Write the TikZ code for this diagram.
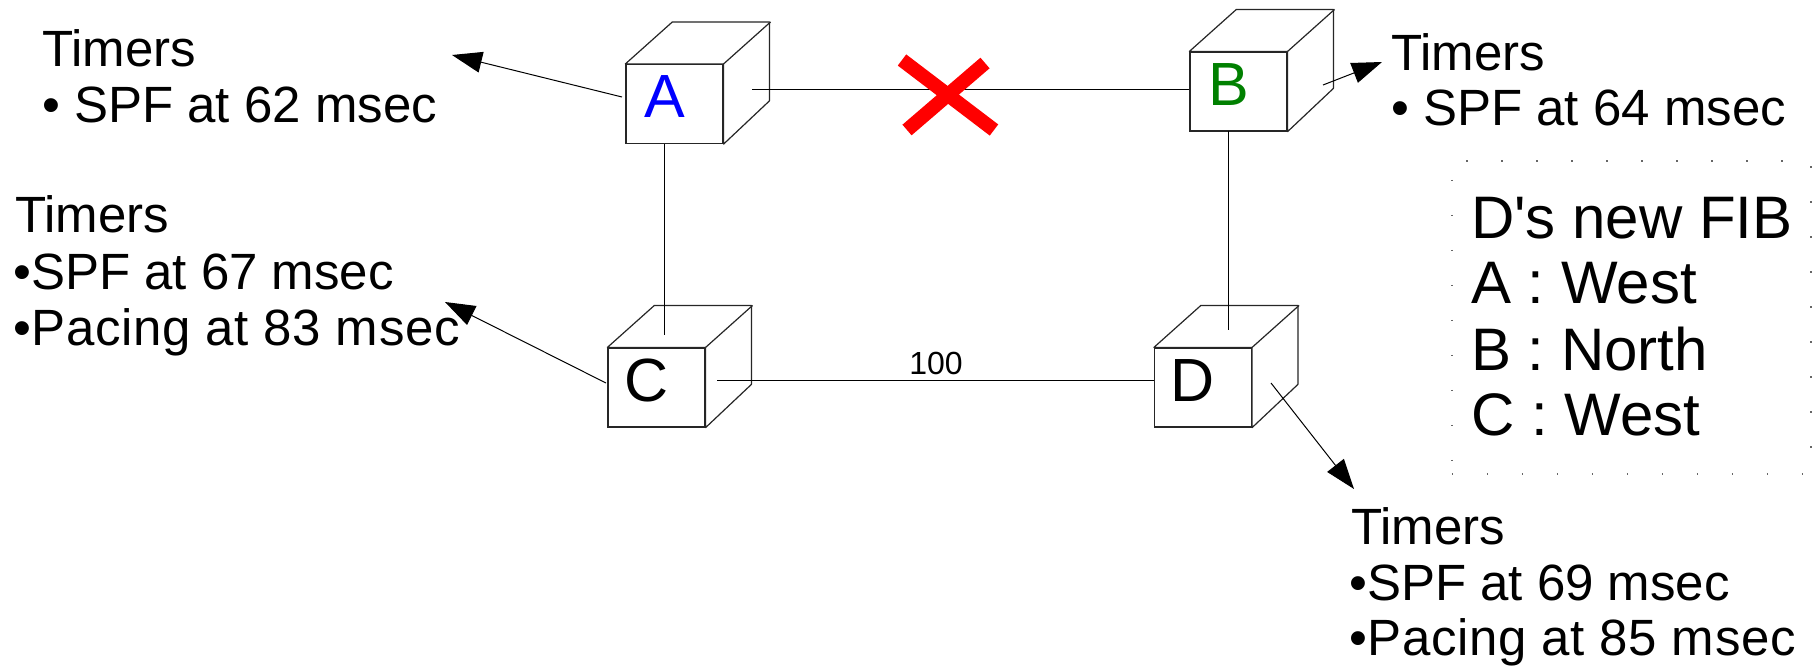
\documentclass[tikz,border=0pt]{standalone}
\usepackage{fontspec}
\setmainfont{Liberation Sans}[Ligatures=TeXOff]
\usetikzlibrary{arrows.meta}
\begin{document}
\begin{tikzpicture}[x=1pt,y=-1pt,
  cube/.style={draw=black!85, line width=1.2pt, minimum width=97pt, minimum height=79pt, inner sep=0pt, fill=white},
  cubeside/.style={draw=black!85, line width=1.2pt, fill=white, line join=round},
  cubelab/.style={font=\fontsize{61}{61}\selectfont, inner sep=0pt},
  link/.style={draw=black, line width=1pt},
  arr/.style={draw=black, line width=1pt, -{Triangle[length=30pt,width=21pt]}},
  txt/.style={font=\fontsize{51}{56}\selectfont, anchor=base west, inner sep=0pt},
  widetxt/.style={txt, font=\fontsize{51}{56}\selectfont\addfontfeature{LetterSpace=1.3}},
  fib/.style={font=\fontsize{60}{66}\selectfont, anchor=base west, inner sep=0pt},
  fibframe/.style={draw=black!60, line width=1.6pt, dash pattern=on 1.6pt off 33.4pt, minimum width=359pt, minimum height=313pt, anchor=north west, inner sep=0pt},
  xmark/.style={draw=red, line width=14pt},
  weight/.style={font=\fontsize{32}{32}\selectfont, anchor=base, inner sep=0pt}
]
\useasboundingbox (0,0) rectangle (1816,667);

\newcommand{\cubebody}[1]{%
  \filldraw[cubeside] (#1.north west) -- ++(47,-42) -- ++(97,0) -- ++(0,79) -- (#1.south east) -- (#1.north east) -- cycle;
  \draw[cubeside] (#1.north east) -- ++(47,-42);
}

% cubes (front faces)
\node[cube] (A) at (674.5,104) {};
\node[cube] (B) at (1238.5,91.5) {};
\node[cube] (C) at (656.5,387.5) {};
\node[cube] (D) at (1203,387.5) {};
\cubebody{A}\cubebody{B}\cubebody{C}\cubebody{D}

\node[cubelab, text=blue] (Alab) at ([shift={(-10,-7)}]A.center) {A};
\node[cubelab, text={rgb,255:red,0;green,128;blue,0}] (Blab) at ([shift={(-10,-7)}]B.center) {B};
\node[cubelab] (Clab) at ([shift={(-10,-7)}]C.center) {C};
\node[cubelab] (Dlab) at ([shift={(-10,-7)}]D.center) {D};

% link end points
\coordinate (abS) at (752,89);
\coordinate (acS) at (664,144);
\coordinate (acE) at (664,335);
\coordinate (bdS) at (1228,131);
\coordinate (bdE) at (1228,330);
\coordinate (cdS) at (717,380);

\draw[link] (abS) -- (abS -| B.west);
\draw[link] (acS) -- (acE);
\draw[link] (bdS) -- (bdE);
\draw[link] (cdS) -- (cdS -| D.west);
\node[weight] (w) at (936,374) {100};

% red cross
\coordinate (x1) at (902,60);
\coordinate (x2) at (994,130);
\coordinate (x3) at (907,130);
\coordinate (x4) at (985,63);
\draw[xmark] (x1) -- (x2);
\draw[xmark] (x3) -- (x4);

% arrows to timer notes
\coordinate (aS) at (622,97);  \coordinate (aT) at (452,55);
\coordinate (bS) at (1323,85); \coordinate (bT) at (1382,62);
\coordinate (cS) at (606,383); \coordinate (cT) at (445,302);
\coordinate (dS) at (1271,383); \coordinate (dT) at (1354,489);
\draw[arr] (aS) -- (aT);
\draw[arr] (bS) -- (bT);
\draw[arr] (cS) -- (cT);
\draw[arr] (dS) -- (dT);

% timer texts
\node[txt] (tA1) at (42,66) {Timers};
\node[txt] (tA2) at (42,122) {• SPF at 62 msec};
\node[txt] (tB1) at (1391,70) {Timers};
\node[txt] (tB2) at (1391,125) {• SPF at 64 msec};
\node[txt] (tC1) at (15,232) {Timers};
\node[txt] (tC2) at (13,289) {•SPF at 67 msec};
\node[widetxt] (tC3) at (13,345) {•Pacing at 83 msec};
\node[txt] (tD1) at (1351,544) {Timers};
\node[txt] (tD2) at (1349,600) {•SPF at 69 msec};
\node[widetxt] (tD3) at (1349,655) {•Pacing at 85 msec};

% FIB box
\node[fibframe] (fibbox) at (1451,160) {};
\node[fib] (f1) at (1471,238) {D's new FIB};
\node[fib] (f2) at (1471,303) {A : West};
\node[fib] (f3) at (1471,370) {B : North};
\node[fib] (f4) at (1471,435) {C : West};
\end{tikzpicture}
\end{document}
